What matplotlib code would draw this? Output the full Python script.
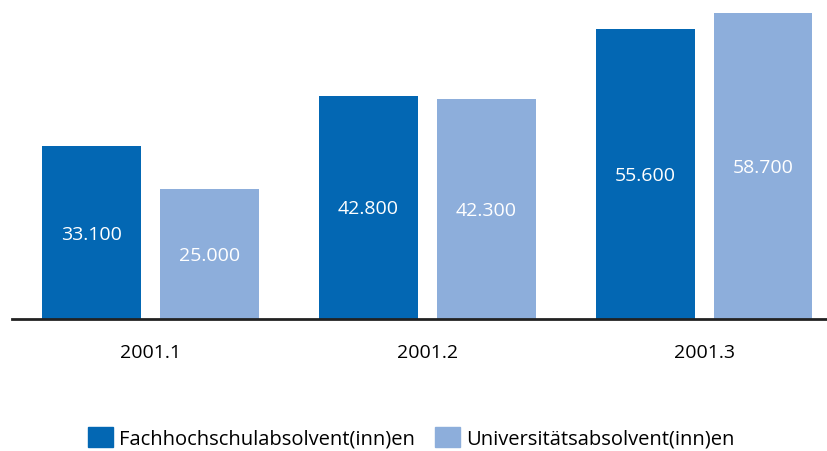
import matplotlib.pyplot as plt
import numpy as np
from matplotlib.patches import Patch

plt.rcParams['font.family'] = ['Open Sans', 'DejaVu Sans']

# Data
periods = ['2001.1', '2001.2', '2001.3']
series = ['Fachhochschulabsolvent(inn)en', 'Universitätsabsolvent(inn)en']
fh_values = [33100, 42800, 55600]
uni_values = [25000, 42300, 58700]
colors = ['#0367b3', '#8daedb']

def fmt(v):
    return f'{v:,}'.replace(',', '.')

fig = plt.figure(figsize=(8.27, 4.51), dpi=100)
ax = fig.add_axes([12 / 827, 132 / 451, 815 / 827, 319 / 451])

x = np.arange(len(periods))
width = 0.357
offset = 0.213

for vals, dx, color in ((fh_values, -offset, colors[0]), (uni_values, offset, colors[1])):
    bars = ax.bar(x + dx, vals, width, color=color)
    for b, v in zip(bars, vals):
        ax.text(b.get_x() + b.get_width() / 2, v / 2, fmt(v), ha='center',
                va='center_baseline', color='white', fontsize=14)

ax.set_xlim(-0.5, 2.444)
ax.set_ylim(0, 61200)
ax.set_xticks(x)
ax.set_xticklabels(periods, fontsize=14)
ax.tick_params(axis='x', length=0, pad=18)
ax.set_yticks([])
for s in ('top', 'right', 'left'):
    ax.spines[s].set_visible(False)
ax.spines['bottom'].set_linewidth(2)
ax.spines['bottom'].set_color('#222222')

handles = [Patch(color=c, label=l) for c, l in zip(colors, series)]
fig.legend(handles=handles, loc='center', bbox_to_anchor=(0.497, 0.028), ncol=2,
           frameon=False, fontsize=14.5, handlelength=1.25, handleheight=1.15,
           handletextpad=0.3, columnspacing=1.0, borderpad=0)

fig.savefig('out.png', dpi=100)
